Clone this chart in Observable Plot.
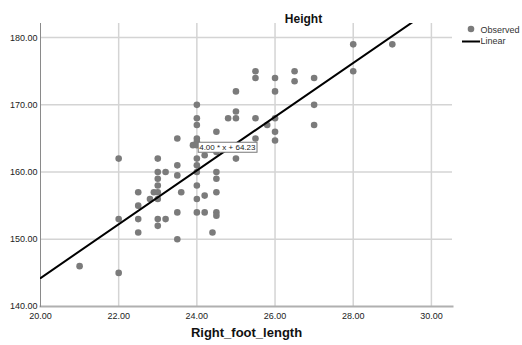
<!DOCTYPE html>
<html>
<head>
<meta charset="utf-8">
<script src="https://cdn.jsdelivr.net/npm/d3@7"></script>
<script src="https://cdn.jsdelivr.net/npm/@observablehq/plot@0.6"></script>
<style>
  html, body { margin: 0; padding: 0; background: #fff; }
  #chart { width: 522px; height: 345px; }
</style>
</head>
<body>
<div id="chart"></div>
<script>
// Data
const footLength = [21, 22, 22, 22, 22.5, 22.5, 22.5, 22.5, 22.8, 22.9,
  23, 23, 23, 23, 23, 23, 23, 23, 23.2, 23.2,
  23.5, 23.5, 23.5, 23.5, 23.5, 23.6, 23.9,
  24, 24, 24, 24, 24, 24, 24, 24, 24, 24, 24, 24,
  24.2, 24.2, 24.2, 24.4,
  24.5, 24.5, 24.5, 24.5, 24.5, 24.5, 24.5,
  24.8, 25, 25, 25, 25,
  25.5, 25.5, 25.5, 25.5, 25.8,
  26, 26, 26, 26, 26,
  26.5, 26.5, 27, 27, 27, 28, 28, 29];
const height = [146, 162, 153, 145, 157, 155, 153, 151, 156, 157,
  162, 160, 159, 158, 157, 156, 153, 152, 160, 153,
  165, 161, 159.5, 154, 150, 157, 164,
  170, 168, 167, 165, 164.5, 164, 162, 161, 160, 158, 156, 154,
  162.5, 156.5, 154, 151,
  166, 163, 160, 159, 157, 154, 153.5,
  168, 172, 169, 168, 162,
  175, 174, 168, 165, 167,
  174, 172, 168, 166, 164.7,
  175, 173.5, 174, 170, 167, 179, 175, 179];
const slope = 4.00;
const intercept = 64.23;
const fitLabel = "4.00 * x + 64.23";
const xTicks = [20, 22, 24, 26, 28, 30];
const yTicks = [140, 150, 160, 170, 180];
const xDomain = [20, 30.54];
const yDomain = [140, 182.1];
const fitX = [20, 31];
const legendLabels = ["Observed", "Linear"];

const points = footLength.map((x, i) => ({x, y: height[i]}));
const fit = fitX.map(x => ({x, y: slope * x + intercept}));
const labelPos = [{x: 24.06, y: 163.7, text: fitLabel}];

const font = "'Liberation Sans', Arial, sans-serif";
const fmt = d3.format(".2f");

const legend = (index, scales, values, dims) => {
  const g = d3.create("svg:g").attr("text-anchor", "start");
  const x0 = dims.width - dims.marginRight;
  const y0 = dims.marginTop;
  g.append("circle").attr("cx", x0 + 19).attr("cy", y0 + 6).attr("r", 3.3).attr("fill", "#7b7b7b");
  g.append("text").attr("x", x0 + 28.5).attr("y", y0 + 7).attr("dy", "0.32em")
    .attr("font-size", 9).attr("fill", "#333").attr("font-family", font).text(legendLabels[0]);
  g.append("line").attr("x1", x0 + 10).attr("x2", x0 + 28).attr("y1", y0 + 18.5).attr("y2", y0 + 18.5)
    .attr("stroke", "#000").attr("stroke-width", 2);
  g.append("text").attr("x", x0 + 28.5).attr("y", y0 + 18.5).attr("dy", "0.32em")
    .attr("font-size", 9).attr("fill", "#333").attr("font-family", font).text(legendLabels[1]);
  return g.node();
};

const chart = Plot.plot({
  width: 522,
  height: 345,
  marginLeft: 40,
  marginRight: 70,
  marginTop: 23,
  marginBottom: 39,
  style: {fontFamily: font, background: "#fff", overflow: "visible"},
  x: {domain: xDomain},
  y: {domain: yDomain},
  marks: [
    Plot.gridX(xTicks.filter(d => d > 20), {stroke: "#d4d4d4", strokeOpacity: 1, strokeWidth: 1.5}),
    Plot.gridY(yTicks.filter(d => d > 140), {stroke: "#d4d4d4", strokeOpacity: 1, strokeWidth: 1.5}),
    Plot.axisX(xTicks, {tickSize: 0, tickPadding: 6, fontSize: 9, fill: "#222", label: null, tickFormat: fmt}),
    Plot.axisY(yTicks, {tickSize: 0, tickPadding: 3, fontSize: 9, fill: "#222", label: null, tickFormat: fmt}),
    Plot.frame({anchor: "bottom", stroke: "#b0b0b0", strokeWidth: 2}),
    Plot.frame({anchor: "left", stroke: "#8a8a8a", strokeWidth: 1}),
    Plot.dot(points, {x: "x", y: "y", r: 3.3, fill: "#7b7b7b"}),
    Plot.line(fit, {x: "x", y: "y", stroke: "#000", strokeWidth: 2, clip: true}),
    Plot.text(labelPos, {x: "x", y: "y", text: "text", textAnchor: "start", fontSize: 8, fill: "#222", className: "fitlabel"}),
    Plot.text(["Height"], {frameAnchor: "top", dx: 57, dy: -9, fontSize: 12, fontWeight: "bold", fill: "#111"}),
    Plot.text(["Right_foot_length"], {frameAnchor: "bottom", dy: 30, fontSize: 13, fontWeight: "bold", fill: "#111"}),
    legend
  ]
});
document.getElementById("chart").appendChild(chart);

// draw box around the fit label
d3.select(chart).selectAll("g.fitlabel text").each(function() {
  const b = this.getBBox();
  d3.select(this.parentNode).insert("rect", () => this)
    .attr("transform", this.getAttribute("transform"))
    .attr("x", b.x - 1).attr("y", b.y - 0.5).attr("width", b.width + 2).attr("height", b.height + 1)
    .attr("fill", "#fff").attr("stroke", "#777").attr("stroke-width", 1);
});
</script>
</body>
</html>
